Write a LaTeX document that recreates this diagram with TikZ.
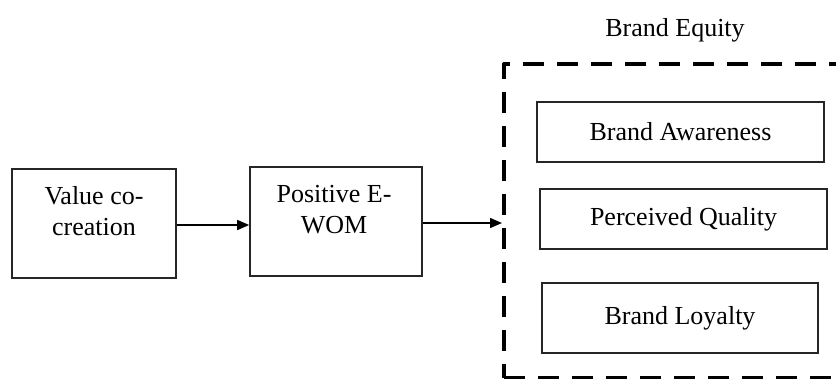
\documentclass[tikz,border=0pt]{standalone}
\usepackage{fontspec}
\setmainfont{Liberation Serif}
\usetikzlibrary{arrows.meta}
\begin{document}
\begin{tikzpicture}[x=1pt,y=-1pt,
  box/.style={draw=black!85,line width=1.6pt,rectangle,inner sep=0pt},
  txt/.style={font=\fontsize{26}{31}\selectfont,align=center,inner sep=0pt},
  arr/.style={line width=1.5pt,-{Triangle[length=12pt,width=10pt]}},
  eqbox/.style={draw=black,line width=4pt,dash pattern=on 21pt off 13pt,line join=round,rectangle,inner sep=0pt}]
\useasboundingbox (0,0) rectangle (836,378);
\begin{scope}
\clip (0,0) rectangle (836,378);
\node[eqbox,minimum width=356pt,minimum height=314pt] (eq) at (682,221) {};
\end{scope}
\node[box,minimum width=164pt,minimum height=109pt] (value) at (94,223.5) {};
\node[txt] (valuet) at (94,211) {Value co-\\creation};
\node[box,minimum width=172pt,minimum height=109pt] (wom) at (336,221.5) {};
\node[txt] (womt) at (334,210) {Positive E-\\WOM};
\node[box,minimum width=287pt,minimum height=60pt,txt] (ba) at (680.5,132) {Brand Awareness};
\node[box,minimum width=287pt,minimum height=60pt,txt] (pq) at (683.5,219) {Perceived Quality};
\node[box,minimum width=276pt,minimum height=70pt,txt] (bl) at (680,318) {Brand Loyalty};
\node[txt] (eqt) at (675,30) {Brand Equity};
\draw[arr] (value.east |- 0,225) -- (wom.west |- 0,225);
\draw[arr] (wom.east |- 0,223) -- (eq.west |- 0,223);
\end{tikzpicture}
\end{document}
